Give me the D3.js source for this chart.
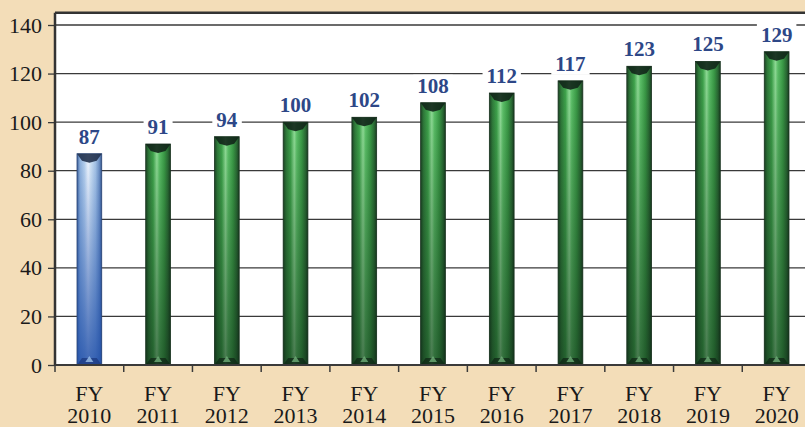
<!DOCTYPE html>
<html>
<head>
<meta charset="utf-8">
<script src="https://cdn.jsdelivr.net/npm/d3@7"></script>
<style>
  html, body { margin: 0; padding: 0; background: #f3ddb8; }
  svg { display: block; }
</style>
</head>
<body>
<svg id="chart" width="805" height="427"></svg>
<script>
const categories = ["2010", "2011", "2012", "2013", "2014", "2015", "2016", "2017", "2018", "2019", "2020"];
const values = [87, 91, 94, 100, 102, 108, 112, 117, 123, 125, 129];
const yTicks = [0, 20, 40, 60, 80, 100, 120, 140];

const width = 805, height = 427;
const left = 55, right = 811, bottom = 365;

const svg = d3.select("#chart");
const defs = svg.append("defs");

// horizontal shading for the bars
function hGrad(id, stops) {
  const g = defs.append("linearGradient").attr("id", id)
    .attr("x1", 0).attr("x2", 1).attr("y1", 0).attr("y2", 0);
  stops.forEach(s => g.append("stop").attr("offset", s[0]).attr("stop-color", s[1]));
}
function vGrad(id, color, a0, a1) {
  const g = defs.append("linearGradient").attr("id", id)
    .attr("x1", 0).attr("x2", 0).attr("y1", 0).attr("y2", 1);
  g.append("stop").attr("offset", 0).attr("stop-color", color).attr("stop-opacity", a0);
  g.append("stop").attr("offset", 1).attr("stop-color", color).attr("stop-opacity", a1);
}
hGrad("greenH", [[0, "#1c4424"], [0.12, "#2f7a3a"], [0.3, "#3fa44c"], [0.45, "#8fdc96"], [0.55, "#5cc068"], [0.75, "#3a9a46"], [0.9, "#2a6a34"], [1, "#183c20"]]);
hGrad("blueH", [[0, "#3a5e98"], [0.12, "#8fb2dc"], [0.3, "#b8d2ee"], [0.45, "#f2f8ff"], [0.55, "#d4e6f6"], [0.75, "#a6c4e6"], [0.9, "#6f92c4"], [1, "#34548a"]]);
vGrad("greenV", "#0e2a16", 0, 0.55);
vGrad("blueV", "#1f4ea8", 0, 0.85);

const x = d3.scaleBand()
  .domain(categories)
  .range([left, right])
  .paddingInner(0.64)
  .paddingOuter(0.32);

const y = d3.scaleLinear()
  .domain([0, 140])
  .range([bottom, 25]);

const plotTop = y(145);

// plot background
svg.append("rect")
  .attr("x", left).attr("y", plotTop)
  .attr("width", width - left).attr("height", bottom - plotTop)
  .attr("fill", "#ffffff");

// gridlines + y ticks
svg.append("g")
  .attr("transform", "translate(" + left + ",0)")
  .call(d3.axisLeft(y).tickValues(yTicks).tickSize(7).tickPadding(6))
  .call(g => g.select(".domain").remove())
  .call(g => g.selectAll(".tick line").attr("stroke", "#3a3a3a").attr("stroke-width", 1.3))
  .call(g => g.selectAll(".tick text")
    .attr("fill", "#1a1a1a")
    .style("font-family", "'Liberation Serif', serif")
    .style("font-size", "22px"));

svg.append("g")
  .selectAll("line")
  .data(yTicks.filter(d => d > 0))
  .enter()
  .append("line")
  .attr("x1", left).attr("x2", width)
  .attr("y1", d => y(d)).attr("y2", d => y(d))
  .attr("stroke", "#3a3a3a")
  .attr("stroke-width", 1.3);

// frame: top and left
svg.append("line")
  .attr("x1", left).attr("x2", width).attr("y1", plotTop).attr("y2", plotTop)
  .attr("stroke", "#333").attr("stroke-width", 2.5);
svg.append("line")
  .attr("x1", left).attr("x2", left).attr("y1", plotTop).attr("y2", bottom)
  .attr("stroke", "#333").attr("stroke-width", 2.5);

// bars
const step = x.step();
const bw = x.bandwidth();
const bars = svg.append("g")
  .selectAll("g")
  .data(values)
  .enter()
  .append("g");

bars.append("rect")
  .attr("x", (d, i) => x(categories[i]))
  .attr("y", d => y(d))
  .attr("width", bw)
  .attr("height", d => bottom - y(d))
  .attr("fill", (d, i) => i === 0 ? "url(#blueH)" : "url(#greenH)");

bars.append("rect")
  .attr("x", (d, i) => x(categories[i]))
  .attr("y", d => y(d))
  .attr("width", bw)
  .attr("height", d => bottom - y(d))
  .attr("fill", (d, i) => i === 0 ? "url(#blueV)" : "url(#greenV)")
  .attr("stroke", (d, i) => i === 0 ? "#2c4676" : "#1a3320")
  .attr("stroke-width", 0.8);

// top bevel cap
bars.append("path")
  .attr("d", (d, i) => {
    const x0 = x(categories[i]), t = y(d);
    return "M" + x0 + "," + t + "H" + (x0 + bw) + "L" + (x0 + bw - 5) + "," + (t + 7) +
      "L" + (x0 + bw / 2) + "," + (t + 9) + "L" + (x0 + 5) + "," + (t + 7) + "Z";
  })
  .attr("fill", (d, i) => i === 0 ? "#22324e" : "#12261a")
  .attr("opacity", 0.9);

// bottom bevel
bars.append("path")
  .attr("d", (d, i) => {
    const x0 = x(categories[i]), b = bottom;
    return "M" + x0 + "," + b + "H" + (x0 + bw) + "L" + (x0 + bw - 5) + "," + (b - 7) +
      "L" + (x0 + 5) + "," + (b - 7) + "Z";
  })
  .attr("fill", (d, i) => i === 0 ? "#1c3a80" : "#0f2616")
  .attr("opacity", 0.75);
bars.append("path")
  .attr("d", (d, i) => {
    const cx = x(categories[i]) + bw / 2, b = bottom;
    return "M" + (cx - 4) + "," + (b - 3) + "L" + (cx + 4) + "," + (b - 3) + "L" + cx + "," + (b - 9) + "Z";
  })
  .attr("fill", (d, i) => i === 0 ? "#9cc0ea" : "#6fae78")
  .attr("opacity", 0.8);

// value labels with white backing
const labels = svg.append("g")
  .selectAll("g")
  .data(values)
  .enter()
  .append("g");

labels.append("text")
  .attr("x", (d, i) => x(categories[i]) + bw / 2)
  .attr("y", d => y(d) - 10)
  .attr("text-anchor", "middle")
  .attr("fill", "#2d4787")
  .style("font-family", "'Liberation Serif', serif")
  .style("font-weight", "bold")
  .style("font-size", "21px")
  .text(d => d);

labels.each(function() {
  const t = d3.select(this).select("text");
  const b = t.node().getBBox();
  d3.select(this).insert("rect", "text")
    .attr("x", b.x - 4).attr("y", b.y + 1)
    .attr("width", b.width + 8).attr("height", b.height - 2)
    .attr("fill", "#ffffff");
});

// x axis
svg.append("line")
  .attr("x1", left).attr("x2", width)
  .attr("y1", bottom).attr("y2", bottom)
  .attr("stroke", "#3a3a3a").attr("stroke-width", 2);

svg.append("g")
  .selectAll("line")
  .data(categories)
  .enter()
  .append("line")
  .attr("x1", d => x(d) - (step - bw) / 2)
  .attr("x2", d => x(d) - (step - bw) / 2)
  .attr("y1", bottom).attr("y2", bottom + 7)
  .attr("stroke", "#3a3a3a").attr("stroke-width", 1.5);

const xl = svg.append("g")
  .selectAll("text")
  .data(categories)
  .enter()
  .append("text")
  .attr("text-anchor", "middle")
  .attr("fill", "#1a1a1a")
  .style("font-family", "'Liberation Serif', serif")
  .style("font-size", "22px");
xl.append("tspan")
  .attr("x", d => x(d) + bw / 2)
  .attr("y", 401)
  .text("FY");
xl.append("tspan")
  .attr("x", d => x(d) + bw / 2)
  .attr("y", 423)
  .text(d => d);
</script>
</body>
</html>
